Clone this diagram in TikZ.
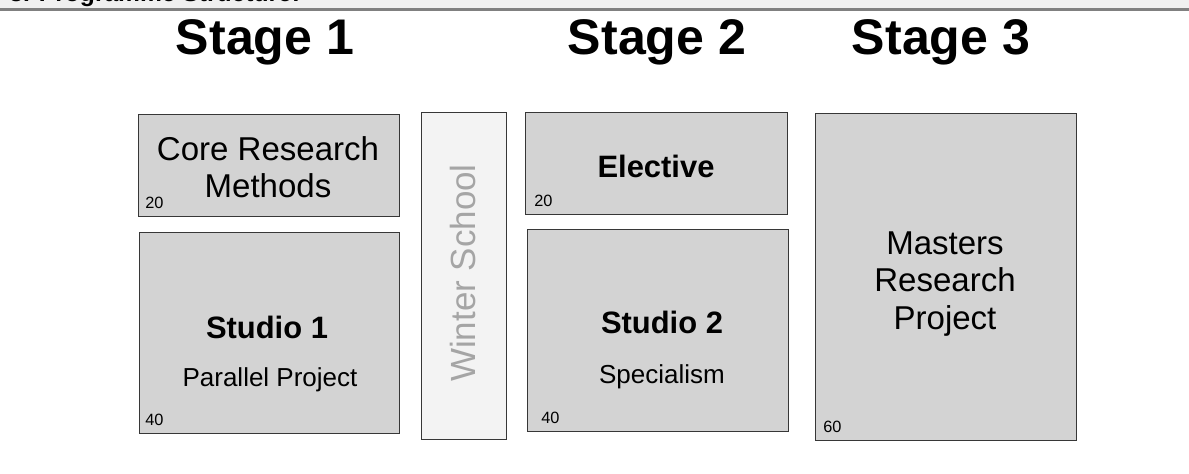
\documentclass[tikz,border=0pt]{standalone}
\usepackage{fontspec}
\setmainfont{Liberation Sans}
\usetikzlibrary{positioning}
\definecolor{modgrey}{RGB}{211,211,211}
\definecolor{wintergrey}{RGB}{243,243,243}
\definecolor{edgegrey}{RGB}{55,55,55}
\definecolor{bargrey}{RGB}{240,240,240}
\definecolor{rulegrey}{RGB}{128,128,128}
\definecolor{winterink}{RGB}{165,165,165}

\begin{document}
\begin{tikzpicture}[
        x=0.02cm, y=-0.02cm,
        module/.style={rectangle, draw=edgegrey, fill=modgrey, line width=0.75pt, anchor=north west, inner sep=0pt},
        winterbox/.style={module, fill=wintergrey},
        stagetitle/.style={anchor=base, inner sep=0pt, font=\fontsize{28.5}{32}\selectfont\bfseries},
        bodytext/.style={align=center, inner sep=0pt, font=\fontsize{18.8}{21.4}\selectfont},
        headtext/.style={anchor=base, inner sep=0pt, font=\fontsize{17.6}{20}\selectfont\bfseries},
        subtext/.style={anchor=base, inner sep=0pt, font=\fontsize{14.8}{17}\selectfont},
        credit/.style={anchor=base west, inner sep=0pt, font=\fontsize{9.3}{11}\selectfont}
    ]
        \useasboundingbox (0,0) rectangle (1189,473);
        \fill[bargrey] (0,0) rectangle (1189,9);
        \begin{scope}
            \clip (0,0) rectangle (1189,9);
            \node[anchor=base west, inner sep=0pt, font=\fontsize{14}{16}\selectfont\bfseries] (header) at (9,1.5) {3. Programme Structure:};
        \end{scope}
        \draw[rulegrey, line width=1.2pt] (0,9.5) -- (1189,9.5);

        \node[stagetitle] (stage1) at (265,55) {Stage 1};
        \node[stagetitle] (stage2) at (657,55) {Stage 2};
        \node[stagetitle] (stage3) at (941,55) {Stage 3};

        \node[module, minimum width=5.22cm, minimum height=2.04cm] (core) at (138,114) {};
        \node[module, minimum width=5.2cm, minimum height=4.02cm] (studio1) at (139,232) {};
        \node[winterbox, minimum width=1.7cm, minimum height=6.54cm] (winter) at (421,112) {};
        \node[module, minimum width=5.24cm, minimum height=2.04cm] (elective) at (525,112) {};
        \node[module, minimum width=5.22cm, minimum height=4.04cm] (studio2) at (527,229) {};
        \node[module, minimum width=5.22cm, minimum height=6.54cm] (masters) at (815,113) {};

        \node[bodytext] (coretxt) at (268,167) {Core Research\\Methods};
        \node[headtext] (studio1head) at (267,338) {Studio 1};
        \node[subtext] (studio1sub) at (270,386) {Parallel Project};
        \node[inner sep=0pt, rotate=90, text=winterink, font=\fontsize{19.9}{22}\selectfont] (wintertxt) at (463,273) {Winter School};
        \node[headtext] (electivetxt) at (656,177) {Elective};
        \node[headtext] (studio2head) at (662,333) {Studio 2};
        \node[subtext] (studio2sub) at (662,383) {Specialism};
        \node[bodytext] (masterstxt) at (945,284) {Masters\\Research\\Project};

        \node[credit] (corecr) at (145,208) {20};
        \node[credit] (studio1cr) at (145,425) {40};
        \node[credit] (electivecr) at (534,206) {20};
        \node[credit] (studio2cr) at (541,423) {40};
        \node[credit] (masterscr) at (823,432) {60};
    \end{tikzpicture}
\end{document}
